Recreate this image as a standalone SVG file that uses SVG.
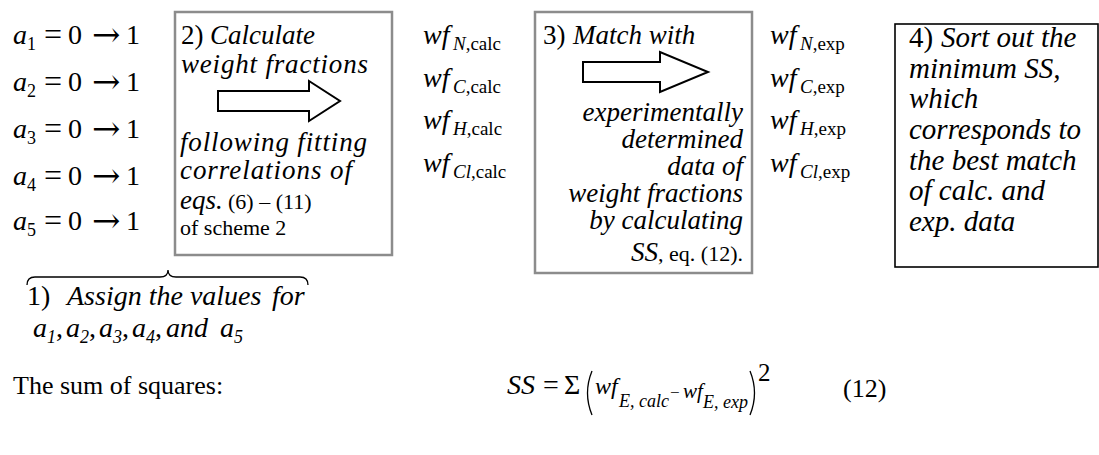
<svg xmlns="http://www.w3.org/2000/svg" width="1099" height="455" viewBox="0 0 1099 455">
<style>
  text { font-family: "Liberation Serif", "Times New Roman", serif; fill: #000; }
  .it { font-style: italic; }
  .m { font-size: 28px; }
  .b { font-size: 27px; }
  .k { font-size: 29px; }
  .s { font-size: 18px; }
  .w { font-size: 19px; }
  .r { font-size: 22px; }
  .eq { font-size: 32px; }
  .ar { font-family: "DejaVu Serif", serif; font-size: 34px; }
  .gbox { fill: #fff; stroke: #8c8c8c; stroke-width: 2.5; }
  .kbox { fill: #fff; stroke: #000; stroke-width: 1.6; }
  .blk { fill: #fff; stroke: #000; stroke-width: 2; stroke-linejoin: miter; }
  .ln { fill: none; stroke: #000; stroke-width: 1.3; }
</style>
<rect width="1099" height="455" fill="#fff"/>

<g id="assign">
  <text class="m"><tspan class="it" x="13" y="44">a</tspan><tspan class="s" x="27" y="50">1</tspan><tspan class="eq" x="44" y="45">=</tspan><tspan x="68" y="44">0</tspan><tspan class="ar" x="92" y="46">→</tspan><tspan x="126" y="44">1</tspan></text>
  <text class="m"><tspan class="it" x="13" y="91">a</tspan><tspan class="s" x="27" y="97">2</tspan><tspan class="eq" x="44" y="92">=</tspan><tspan x="68" y="91">0</tspan><tspan class="ar" x="92" y="93">→</tspan><tspan x="126" y="91">1</tspan></text>
  <text class="m"><tspan class="it" x="13" y="138">a</tspan><tspan class="s" x="27" y="144">3</tspan><tspan class="eq" x="44" y="139">=</tspan><tspan x="68" y="138">0</tspan><tspan class="ar" x="92" y="140">→</tspan><tspan x="126" y="138">1</tspan></text>
  <text class="m"><tspan class="it" x="13" y="185">a</tspan><tspan class="s" x="27" y="191">4</tspan><tspan class="eq" x="44" y="186">=</tspan><tspan x="68" y="185">0</tspan><tspan class="ar" x="92" y="187">→</tspan><tspan x="126" y="185">1</tspan></text>
  <text class="m"><tspan class="it" x="13" y="230">a</tspan><tspan class="s" x="27" y="236">5</tspan><tspan class="eq" x="44" y="231">=</tspan><tspan x="68" y="230">0</tspan><tspan class="ar" x="92" y="232">→</tspan><tspan x="126" y="230">1</tspan></text>
  <path class="ln" d="M27,285 Q27,277 35,277 L160,277 Q168,277 168,270 Q168,277 176,277 L300,277 Q308,277 308,285"/>
  <text class="m" y="305"><tspan x="27">1)</tspan><tspan class="it" x="67">Assign the values</tspan><tspan class="it" x="272">for</tspan></text>
  <text class="m it"><tspan x="33" y="337">a</tspan><tspan class="s" x="47" y="343">1</tspan><tspan x="56" y="337" font-style="normal">,</tspan><tspan x="66" y="337">a</tspan><tspan class="s" x="80" y="343">2</tspan><tspan x="89" y="337" font-style="normal">,</tspan><tspan x="99" y="337">a</tspan><tspan class="s" x="113" y="343">3</tspan><tspan x="122" y="337" font-style="normal">,</tspan><tspan x="132" y="337">a</tspan><tspan class="s" x="146" y="343">4</tspan><tspan x="155" y="337" font-style="normal">,</tspan><tspan x="166" y="337">and</tspan><tspan x="220" y="337">a</tspan><tspan class="s" x="234" y="343">5</tspan></text>
</g>

<g id="calculate">
  <rect class="gbox" x="175" y="12" width="217" height="243"/>
  <text class="b" y="44"><tspan x="181">2)</tspan><tspan class="it" x="210">Calculate</tspan></text>
  <text class="b it" x="181" y="73" textLength="187" lengthAdjust="spacing">weight fractions</text>
  <text class="b it" x="180" y="151" textLength="187" lengthAdjust="spacing">following fitting</text>
  <text class="b it" x="180" y="179" textLength="172" lengthAdjust="spacing">correlations of</text>
  <text class="b" y="209"><tspan class="it" x="180">eqs.</tspan><tspan class="r" x="228">(6) – (11)</tspan></text>
  <text class="r" x="180" y="235">of scheme 2</text>
</g>

<g id="wf-calc">
  <text class="m"><tspan class="it" x="423" y="44">wf</tspan><tspan class="w it" x="453" y="50">N</tspan><tspan class="w">,calc</tspan></text>
  <text class="m"><tspan class="it" x="423" y="87">wf</tspan><tspan class="w it" x="453" y="93">C</tspan><tspan class="w">,calc</tspan></text>
  <text class="m"><tspan class="it" x="423" y="129">wf</tspan><tspan class="w it" x="453" y="135">H</tspan><tspan class="w">,calc</tspan></text>
  <text class="m"><tspan class="it" x="423" y="172">wf</tspan><tspan class="w it" x="453" y="178">Cl</tspan><tspan class="w">,calc</tspan></text>
</g>

<g id="match">
  <rect class="gbox" x="535" y="12" width="217" height="261"/>
  <text class="b" y="44"><tspan x="543">3)</tspan><tspan class="it" x="573">Match with</tspan></text>
  <g class="b it" text-anchor="end">
    <text x="743" y="121">experimentally</text>
    <text x="743" y="148">determined</text>
    <text x="743" y="175">data of</text>
    <text x="743" y="202">weight fractions</text>
    <text x="743" y="229">by calculating</text>
  </g>
  <text class="b" x="743" y="261" text-anchor="end"><tspan class="it">SS</tspan><tspan class="r">, eq. (12).</tspan></text>
</g>

<g id="wf-exp">
  <text class="m"><tspan class="it" x="770" y="44">wf</tspan><tspan class="w it" x="800" y="50">N</tspan><tspan class="w">,exp</tspan></text>
  <text class="m"><tspan class="it" x="770" y="87">wf</tspan><tspan class="w it" x="800" y="93">C</tspan><tspan class="w">,exp</tspan></text>
  <text class="m"><tspan class="it" x="770" y="129">wf</tspan><tspan class="w it" x="800" y="135">H</tspan><tspan class="w">,exp</tspan></text>
  <text class="m"><tspan class="it" x="770" y="172">wf</tspan><tspan class="w it" x="800" y="178">Cl</tspan><tspan class="w">,exp</tspan></text>
</g>

<g id="sort">
  <rect class="kbox" x="895" y="24" width="203" height="243"/>
  <text class="k" y="47"><tspan x="909">4)</tspan><tspan class="it" x="941">Sort out the</tspan></text>
  <g class="k it">
    <text x="909" y="78">minimum SS,</text>
    <text x="909" y="108">which</text>
    <text x="909" y="139">corresponds to</text>
    <text x="909" y="170">the best match</text>
    <text x="909" y="200">of calc. and</text>
    <text x="909" y="231">exp. data</text>
  </g>
</g>

<g id="equation">
  <text x="13" y="394" font-size="26">The sum of squares:</text>
  <text class="m it" x="507" y="394">SS</text>
  <text class="m" x="543" y="394">=</text>
  <text x="564" y="394" font-size="28">Σ</text>
  <path class="ln" d="M592,371 Q583,393 592,415"/>
  <path class="ln" d="M750,371 Q759,393 750,415"/>
  <text class="it" x="595" y="394" font-size="24">wf</text>
  <text class="it" x="619" y="407" font-size="18">E, calc</text>
  <text x="670" y="398" font-size="17">−</text>
  <text class="it" x="683" y="398" font-size="21">wf</text>
  <text class="it" x="703" y="408" font-size="18">E, exp</text>
  <text x="758" y="381" font-size="25">2</text>
  <text x="843" y="397" font-size="26">(12)</text>
</g>

<g id="connectors">
  <path class="blk" d="M218,91 H309 V81 L340,101 L309,121 V111 H218 Z"/>
  <path class="blk" d="M583,62 H660 V52 L708,72 L660,92 V82 H583 Z"/>
</g>
</svg>
